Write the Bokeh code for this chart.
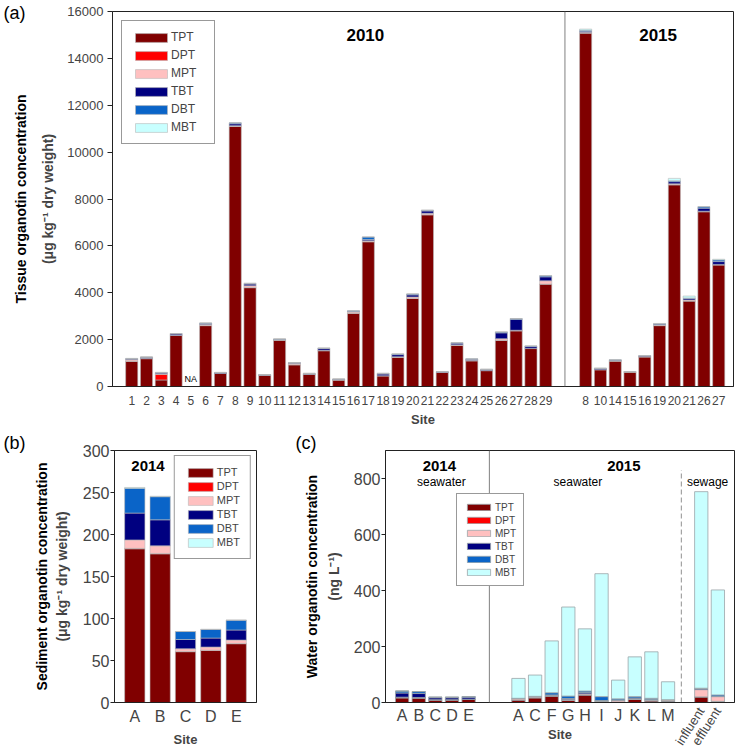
from bokeh.plotting import figure
from bokeh.models import (ColumnDataSource, Label, Span, FixedTicker, Range1d, Title,
                          LinearAxis)
from bokeh.layouts import column, row
from bokeh.embed import file_html
from bokeh.resources import INLINE

# ---------------- data ----------------
species = ["TPT", "DPT", "MPT", "TBT", "DBT", "MBT"]

# (a) tissue, 2010
a_sites_2010 = ["1", "2", "3", "4", "5", "6", "7", "8", "9", "10", "11", "12", "13", "14", "15",
                "16", "17", "18", "19", "20", "21", "22", "23", "24", "25", "26", "27", "28", "29"]
a_tpt_2010 = [1080, 1190, 280, 2180, 0, 2600, 560, 11100, 4220, 480, 1980, 930, 520, 1530, 280,
              3130, 6180, 460, 1250, 3760, 7330, 600, 1760, 1100, 680, 1970, 2380, 1620, 4370]
a_dpt_2010 = [0, 0, 240, 0, 0, 0, 0, 0, 0, 0, 0, 0, 0, 0, 0,
              0, 0, 0, 0, 0, 0, 0, 0, 0, 0, 0, 0, 0, 0]
a_mpt_2010 = [60, 20, 20, 10, 0, 50, 0, 30, 80, 0, 0, 50, 0, 20, 0,
              50, 40, 0, 20, 60, 60, 0, 20, 20, 0, 70, 20, 0, 140]
a_tbt_2010 = [30, 35, 40, 50, 0, 30, 30, 80, 70, 20, 30, 30, 30, 70, 30,
              30, 50, 70, 90, 90, 100, 20, 70, 40, 40, 250, 460, 80, 170]
a_dbt_2010 = [20, 15, 20, 20, 0, 30, 10, 40, 30, 10, 20, 10, 10, 20, 10,
              20, 110, 30, 30, 40, 30, 20, 20, 20, 15, 40, 40, 30, 50]
a_mbt_2010 = [10, 0, 0, 0, 0, 0, 0, 0, 0, 0, 0, 0, 0, 0, 0,
              0, 0, 0, 0, 0, 0, 0, 0, 0, 0, 0, 0, 0, 0]
a_na_sites = ["5"]

# (a) tissue, 2015
a_sites_2015 = ["8", "10", "14", "15", "16", "19", "20", "21", "26", "27"]
a_tpt_2015 = [15080, 720, 1090, 620, 1270, 2600, 8610, 3650, 7460, 5190]
a_dpt_2015 = [0, 0, 0, 0, 0, 0, 0, 0, 0, 0]
a_mpt_2015 = [40, 0, 0, 0, 0, 20, 40, 40, 20, 20]
a_tbt_2015 = [40, 40, 30, 10, 30, 40, 90, 60, 130, 120]
a_dbt_2015 = [40, 20, 20, 10, 20, 20, 40, 30, 60, 70]
a_mbt_2015 = [50, 0, 0, 0, 0, 10, 100, 80, 0, 30]

# (b) sediment, 2014
b_sites = ["A", "B", "C", "D", "E"]
b_tpt = [183, 177, 60.5, 62, 70]
b_dpt = [0.5, 0.5, 0.3, 0.3, 0.3]
b_mpt = [10, 9, 3.2, 3.7, 4]
b_tbt = [32, 31, 11, 10.7, 12]
b_dbt = [29.5, 27.5, 9.5, 10.3, 11.7]
b_mbt = [1, 0.5, 0, 0, 0]

# (c) water
c_sites_2014 = ["A", "B", "C", "D", "E"]
c_tpt_2014 = [17, 16, 9, 9, 11]
c_dpt_2014 = [0, 0, 0, 0, 0]
c_mpt_2014 = [2, 2, 1, 1, 1]
c_tbt_2014 = [15, 14, 7, 7, 7]
c_dbt_2014 = [7, 7, 2, 2, 2]
c_mbt_2014 = [0, 0, 0, 0, 0]

c_sites_2015 = ["A", "C", "F", "G", "H", "I", "J", "K", "L", "M"]
c_tpt_2015 = [9, 17, 23, 8, 27, 4, 2, 11, 6, 5]
c_dpt_2015 = [0, 0, 0, 0, 0, 0, 0, 0, 0, 0]
c_mpt_2015 = [5, 4, 3, 4, 4, 2, 6, 2, 3, 5]
c_tbt_2015 = [0, 0, 1, 2, 5, 1, 1, 3, 2, 0]
c_dbt_2015 = [1, 1, 8, 9, 5, 14, 4, 5, 4, 0]
c_mbt_2015 = [71, 76, 185, 318, 222, 439, 67, 142, 166, 64]

c_sites_sewage = ["influent", "effluent"]
c_tpt_sewage = [20, 4]
c_dpt_sewage = [0, 0]
c_mpt_sewage = [26, 17]
c_tbt_sewage = [4, 1]
c_dbt_sewage = [1, 5]
c_mbt_sewage = [702, 375]

# ---------------- style ----------------
FONT = "Liberation Sans"
COLORS = ["#800000", "#ff0000", "#ffc0c0", "#000080", "#0a64c8", "#c8ffff"]


def base_fig(fw, fh, bl, br, bt, bb, xr, yr):
    p = figure(frame_width=fw, frame_height=fh, min_border_left=bl, min_border_right=br,
               min_border_top=bt, min_border_bottom=bb,
               x_range=Range1d(*xr), y_range=Range1d(*yr),
               output_backend="svg", toolbar_location=None)
    p.grid.visible = False
    p.outline_line_color = "#222222"
    p.outline_line_width = 1
    p.outline_line_alpha = 1
    p.background_fill_color = "white"
    p.border_fill_color = "white"
    p.xaxis.major_tick_out = 0
    p.xaxis.major_tick_in = 0
    p.xaxis.minor_tick_line_color = None
    p.yaxis.minor_tick_line_color = None
    p.yaxis.major_tick_in = 0
    for ax in (p.xaxis, p.yaxis):
        ax.major_label_text_font = FONT
        ax.axis_label_text_font = FONT
        ax.axis_label_text_font_style = "bold"
        ax.axis_line_color = "#222222"
        ax.major_tick_line_color = "#222222"
    p.xaxis.major_tick_line_color = None
    return p


def add_label(p, x, y, text, size, bold=False):
    p.add_layout(Label(x=x, y=y, text=text, text_font=FONT, text_font_size=f"{size}px",
                       text_font_style="bold" if bold else "normal",
                       text_align="center", text_baseline="middle", text_color="black"))


def add_title(p, text, place, size, bold, offset, standoff, align="left"):
    p.add_layout(Title(text=text, text_font=FONT, text_font_size=f"{size}px",
                       text_font_style="bold" if bold else "normal", align=align,
                       offset=offset, standoff=standoff, text_color="black"), place)


def style_legend(leg, loc, margin, padding, spacing, gw, gh, lh, lw, standoff, fs):
    leg.location = loc
    leg.margin = margin
    leg.padding = padding
    leg.spacing = spacing
    leg.glyph_width = gw
    leg.glyph_height = gh
    leg.label_height = lh
    leg.label_width = lw
    leg.label_standoff = standoff
    leg.label_text_font = FONT
    leg.label_text_font_size = f"{fs}px"
    leg.border_line_color = "#333333"
    leg.border_line_width = 1
    leg.background_fill_alpha = 1.0


# ================= panel (a) =================
# x in tenths of a site slot
ax2010 = [10 * (i + 1) for i in range(len(a_sites_2010))]
ax2015 = [317 + 10 * j for j in range(len(a_sites_2015))]
a_src = ColumnDataSource(dict(
    x=ax2010 + ax2015,
    TPT=a_tpt_2010 + a_tpt_2015, DPT=a_dpt_2010 + a_dpt_2015, MPT=a_mpt_2010 + a_mpt_2015,
    TBT=a_tbt_2010 + a_tbt_2015, DBT=a_dbt_2010 + a_dbt_2015, MBT=a_mbt_2010 + a_mbt_2015,
))
pa = base_fig(621, 375, 112, 3, 11, 44, (-3, 417), (0, 16000))
pa.vbar_stack(species, x="x", width=8.2, source=a_src, fill_color=COLORS,
              line_color="#b8b8b8", line_width=0.6, legend_label=species)
pa.add_layout(Span(location=303, dimension="height", line_color="#808080", line_width=1))
pa.yaxis.ticker = FixedTicker(ticks=list(range(0, 16001, 2000)))
pa.yaxis.major_tick_out = 5
pa.yaxis.major_label_standoff = 4
pa.yaxis.major_label_text_font_size = "13px"
pa.yaxis.axis_label = "(\u03bcg kg\u207b\u00b9 dry weight)"
pa.yaxis.axis_label_text_font_size = "14px"
pa.yaxis.axis_label_standoff = 8
add_title(pa, "Tissue organotin concentration", "left", 14, True, 0, 17, align="center")
pa.xaxis.ticker = FixedTicker(ticks=ax2010 + ax2015)
pa.xaxis.major_label_overrides = {x: s for x, s in zip(ax2010 + ax2015, a_sites_2010 + a_sites_2015)}
pa.xaxis.major_label_text_font_size = "12px"
pa.xaxis.major_label_standoff = 9
pa.xaxis.axis_label = "Site"
pa.xaxis.axis_label_text_font_size = "13px"
pa.xaxis.axis_label_standoff = 4
style_legend(pa.legend[0], "top_left", 9, 9, 4, 40, 11, 12, 34, 0, 12)
add_label(pa, 168, 15000, "2010", 17, bold=True)
add_label(pa, 366, 15000, "2015", 17, bold=True)
for s in a_na_sites:
    add_label(pa, ax2010[a_sites_2010.index(s)], 300, "NA", 9)
add_title(pa, "(a)", "above", 18, False, -109, -22)

# ================= panel (b) =================
bx = [i + 1 for i in range(len(b_sites))]
b_src = ColumnDataSource(dict(x=bx, TPT=b_tpt, DPT=b_dpt, MPT=b_mpt, TBT=b_tbt, DBT=b_dbt, MBT=b_mbt))
pb = base_fig(142, 252, 114, 34, 20, 47, (0.2, 5.8), (0, 300))
pb.vbar_stack(species, x="x", width=0.8, source=b_src, fill_color=COLORS,
              line_color="#b8b8b8", line_width=0.6, legend_label=species)
pb.yaxis.ticker = FixedTicker(ticks=list(range(0, 301, 50)))
pb.yaxis.major_tick_out = 4
pb.yaxis.major_label_standoff = 1
pb.yaxis.major_label_text_font_size = "16px"
pb.yaxis.axis_label = "(\u03bcg kg\u207b\u00b9 dry weight)"
pb.yaxis.axis_label_text_font_size = "14px"
pb.yaxis.axis_label_standoff = 10
add_title(pb, "Sediment organotin concentration", "left", 14, True, 0, 2, align="center")
pb.xaxis.ticker = FixedTicker(ticks=bx)
pb.xaxis.major_label_overrides = {x: s for x, s in zip(bx, b_sites)}
pb.xaxis.major_label_text_font_size = "16px"
pb.xaxis.major_label_standoff = 5
pb.xaxis.axis_label = "Site"
pb.xaxis.axis_label_text_font_size = "13px"
pb.xaxis.axis_label_standoff = 4
style_legend(pb.legend[0], "top_right", 5, 10, 2, 31, 11, 11, 18, 1, 11)
add_label(pb, 1.52, 281, "2014", 15, bold=True)
add_title(pb, "(b)", "above", 18, False, -111, -4)

# ================= panel (c) =================
cx2014 = [i + 1 for i in range(len(c_sites_2014))]
cx2015 = [8 + j for j in range(len(c_sites_2015))]
cxsew = [19 + k for k in range(len(c_sites_sewage))]
c_src = ColumnDataSource(dict(
    x=cx2014 + cx2015 + cxsew,
    TPT=c_tpt_2014 + c_tpt_2015 + c_tpt_sewage, DPT=c_dpt_2014 + c_dpt_2015 + c_dpt_sewage,
    MPT=c_mpt_2014 + c_mpt_2015 + c_mpt_sewage, TBT=c_tbt_2014 + c_tbt_2015 + c_tbt_sewage,
    DBT=c_dbt_2014 + c_dbt_2015 + c_dbt_sewage, MBT=c_mbt_2014 + c_mbt_2015 + c_mbt_sewage,
))
pc = base_fig(349, 252, 95, 2, 20, 47, (0, 21), (0, 900))
pc.vbar_stack(species, x="x", width=0.8, source=c_src, fill_color=COLORS,
              line_color="#9aa4a8", line_width=0.8, legend_label=species)
pc.add_layout(Span(location=6.25, dimension="height", line_color="#808080", line_width=1))
pc.segment(x0=[17.8], y0=[0], x1=[17.8], y1=[830], line_color="#909090",
           line_width=1, line_dash="5 3")
pc.yaxis.ticker = FixedTicker(ticks=list(range(0, 801, 200)))
pc.yaxis.major_tick_out = 4
pc.yaxis.major_label_standoff = 1
pc.yaxis.major_label_text_font_size = "16px"
pc.yaxis.axis_label = "(ng L\u207b\u00b9)"
pc.yaxis.axis_label_text_font_size = "14px"
pc.yaxis.axis_label_standoff = 9
add_title(pc, "Water organotin concentration", "left", 14, True, 0, 6, align="center")
pc.xaxis.ticker = FixedTicker(ticks=cx2014 + cx2015)
pc.xaxis.major_label_overrides = {x: s for x, s in zip(cx2014 + cx2015, c_sites_2014 + c_sites_2015)}
pc.xaxis.major_label_text_font_size = "16px"
pc.xaxis.major_label_standoff = 4
pc.xaxis.axis_label = "Site"
pc.xaxis.axis_label_text_font_size = "13px"
pc.xaxis.axis_label_standoff = 0
# second axis, farther out in the bottom panel, pulled up next to the frame
sew_axis = LinearAxis(ticker=FixedTicker(ticks=cxsew),
                      major_label_overrides={x: s for x, s in zip(cxsew, c_sites_sewage)},
                      major_label_orientation=1.0, major_label_standoff=-36,
                      axis_line_color=None, major_tick_line_color=None,
                      minor_tick_line_color=None, major_tick_out=0, major_tick_in=0,
                      major_label_text_font=FONT, major_label_text_font_size="13px")
pc.add_layout(sew_axis, "below")
style_legend(pc.legend[0], (71, 116), 0, 7, 1, 29, 8, 12, 17, 2, 10)
add_label(pc, 3.24, 843, "2014", 15, bold=True)
add_label(pc, 3.36, 789, "seawater", 12)
add_label(pc, 14.34, 843, "2015", 15, bold=True)
add_label(pc, 11.58, 789, "seawater", 12)
add_label(pc, 19.38, 789, "sewage", 12)
add_title(pc, "(c)", "above", 18, False, -90, -4)

layout = column(pa, row(pb, pc))
open("out.html", "w").write(file_html(layout, INLINE))
